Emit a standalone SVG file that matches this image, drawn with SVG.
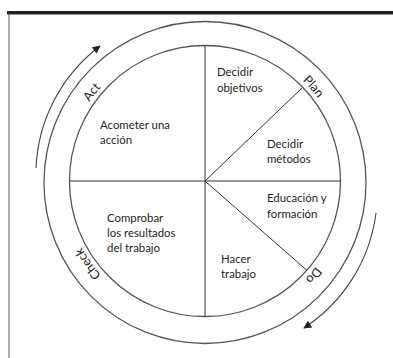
<svg xmlns="http://www.w3.org/2000/svg" width="393" height="358" viewBox="0 0 393 358">
<style>
.ring{fill:none;stroke:#555;stroke-width:1.3}
.div{fill:none;stroke:#333;stroke-width:1}
.arr{fill:none;stroke:#444;stroke-width:1.1}
.t{font-family:Lato,"Open Sans","Liberation Sans",sans-serif;font-size:11.4px;fill:#231f20}
.ph{font-family:Lato,"Open Sans","Liberation Sans",sans-serif;font-size:12.5px;fill:#231f20}
</style>
<defs>
<marker id="ah" viewBox="0 0 10 10" refX="9" refY="5" markerWidth="10" markerHeight="8" markerUnits="userSpaceOnUse" orient="auto">
<path d="M0,0 L10,5 L0,10 Z" fill="#222"/>
</marker>
<path id="tp" d="M345,181 A140,140 0 1 1 65,181 A140,140 0 1 1 345,181"/>
</defs>
<g id="frame">
<line x1="7" y1="12.7" x2="393" y2="12.7" stroke="#222" stroke-width="3.5"/>
<line x1="9" y1="14" x2="9" y2="358" stroke="#777" stroke-width="1.2"/>
</g>
<g id="wheel">
<circle class="ring" cx="205" cy="182.5" r="161"/>
<circle class="ring" cx="205" cy="181" r="135.5"/>
</g>
<g id="connectors">
<line class="div" x1="205" y1="45.5" x2="205" y2="316.5"/>
<line class="div" x1="69.5" y1="181" x2="340.5" y2="181"/>
<line class="div" x1="205" y1="181" x2="302" y2="88"/>
<line class="div" x1="205" y1="181" x2="307" y2="270.5"/>
<path class="arr" d="M36,168 A162,162 0 0 1 100,46" marker-end="url(#ah)"/>
<path class="arr" d="M376,213 A162,162 0 0 1 304,328" marker-end="url(#ah)"/>
</g>
<g id="phases">
<text class="ph"><textPath href="#tp" startOffset="60.6%" text-anchor="middle">Act</textPath></text>
<text class="ph"><textPath href="#tp" startOffset="88.6%" text-anchor="middle">Plan</textPath></text>
<text class="ph"><textPath href="#tp" startOffset="11.4%" text-anchor="middle">Do</textPath></text>
<text class="ph"><textPath href="#tp" startOffset="40.2%" text-anchor="middle">Check</textPath></text>
</g>
<g id="n-objetivos"><text class="t" x="217" y="76">Decidir</text><text class="t" x="217" y="92">objetivos</text></g>
<g id="n-metodos"><text class="t" x="267" y="148">Decidir</text><text class="t" x="267" y="163">métodos</text></g>
<g id="n-educacion"><text class="t" x="267" y="202">Educación y</text><text class="t" x="267" y="218">formación</text></g>
<g id="n-hacer"><text class="t" x="221" y="263">Hacer</text><text class="t" x="221" y="278">trabajo</text></g>
<g id="n-comprobar"><text class="t" x="107" y="222">Comprobar</text><text class="t" x="107" y="237">los resultados</text><text class="t" x="107" y="252">del trabajo</text></g>
<g id="n-acometer"><text class="t" x="100" y="129">Acometer una</text><text class="t" x="100" y="144">acción</text></g>
</svg>
